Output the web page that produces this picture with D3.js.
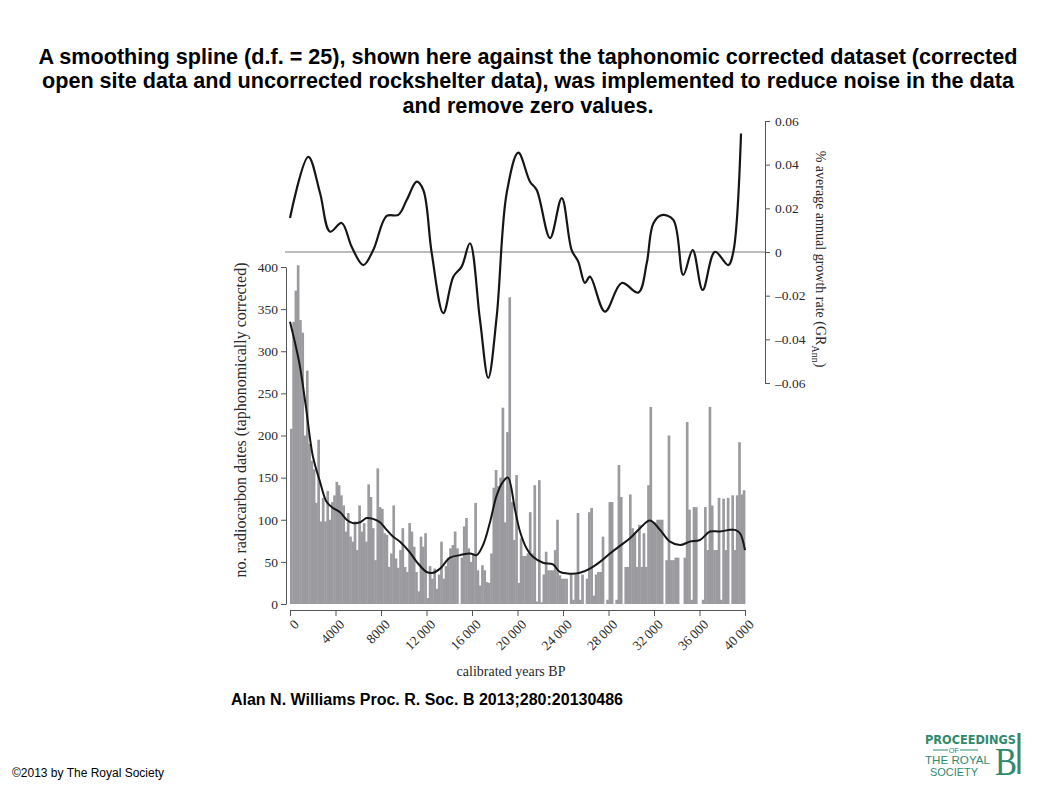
<!DOCTYPE html>
<html lang="en">
<head>
    <meta charset="UTF-8">
    <title>Smoothing spline vs taphonomic corrected dataset</title>
    <style>
        body { margin: 0; background: #fff; }
        #chart { width: 1058px; height: 793px; }
        .serif text { font-family: "Liberation Serif", "DejaVu Serif", serif; }
    </style>
    <script src="https://cdnjs.cloudflare.com/ajax/libs/d3/7.8.5/d3.min.js"></script>
</head>
<body>
    <div id="chart"></div>
    <script>
        // histogram: radiocarbon dates per 200-year bin, 0 -> 40000 cal BP
        const binYears = 200;
        const counts = [
            208, 335, 372, 402, 337, 322, 200, 277, 190, 170,
            160, 120, 195, 98, 126, 98, 134, 100, 121, 129,
            145, 141, 129, 117, 86, 108, 80, 74, 98, 64,
            117, 86, 96, 74, 142, 127, 90, 52, 161, 115,
            113, 84, 82, 44, 60, 117, 54, 43, 64, 90,
            44, 38, 96, 86, 68, 38, 15, 80, 68, 84,
            7, 45, 30, 42, 18, 35, 74, 30, 45, 55,
            66, 70, 86, 66, 0, 55, 92, 102, 66, 50,
            60, 120, 40, 22, 46, 40, 26, 25, 60, 138,
            159, 140, 150, 233, 97, 204, 364, 121, 76, 153,
            25, 78, 57, 57, 60, 109, 60, 141, 3, 147,
            2, 35, 62, 40, 40, 40, 64, 100, 34, 30,
            30, 30, 0, 35, 5, 35, 108, 5, 35, 0,
            30, 109, 114, 10, 35, 38, 38, 80, 0, 5,
            121, 121, 0, 5, 165, 127, 0, 44, 44, 130,
            90, 84, 44, 94, 44, 84, 44, 141, 234, 97,
            97, 100, 100, 100, 0, 52, 200, 52, 52, 55,
            55, 0, 0, 55, 216, 112, 5, 115, 115, 0,
            0, 5, 115, 64, 234, 117, 64, 64, 126, 5,
            125, 64, 126, 0, 129, 64, 129, 192, 130, 135
        ];

        // smoothing spline through the counts (years BP, count)
        const splineYears = [0, 820, 1400, 2000, 2640, 3230, 3780, 4400, 4980, 5540,
            6150, 6740, 7300, 7910, 8500, 9050, 9670, 10500, 11140, 12020,
            12570, 13190, 14070, 14950, 15820, 16410, 16970, 17580, 18170, 18720,
            19160, 19780, 20220, 20800, 21360, 22240, 23120, 23730, 24610, 25490,
            26370, 27250, 28130, 29010, 29890, 30770, 31650, 32530, 33410, 34290,
            35160, 36040, 36920, 37800, 38680, 39120, 39560, 40000];
        const splineValues = [335, 286, 234, 176, 145, 121, 114, 109, 100, 96,
            97, 102, 101, 97, 88, 80, 74, 62, 50, 38,
            37, 42, 55, 58, 60, 58, 70, 97, 129, 145,
            150, 112, 86, 66, 56, 49, 47, 38, 36, 37,
            42, 50, 60, 69, 78, 90, 99, 88, 74, 70,
            74, 76, 86, 86, 88, 88, 84, 64];

        // annual growth rate (right axis)
        const growthYears = [0, 1610, 2640, 3520, 4540, 5420, 6440, 7320, 8500, 9520,
            10260, 11140, 11720, 12460, 13480, 14360, 15090, 15820, 16700, 17430,
            18170, 19050, 20070, 21100, 21690, 22860, 23890, 24760, 25340, 25930,
            26370, 27690, 29160, 30620, 31360, 31940, 32680, 33700, 34570, 35400,
            36280, 37360, 38530, 38970, 39650];
        const growthValues = [0.0156, 0.0436, 0.027, 0.0093, 0.0133, 0.0024, -0.006, 0.0009, 0.0165, 0.017,
            0.0238, 0.0322, 0.0284, -0.0005, -0.028, -0.0113, -0.0067, 0.004, -0.031, -0.0577,
            -0.0296, 0.027, 0.0455, 0.0322, 0.0284, 0.0064, 0.0247, 0.0009, -0.0044, -0.0142,
            -0.0113, -0.0273, -0.0142, -0.0186, -0.0052, 0.0131, 0.0169, 0.0147, -0.0105, 0.0009,
            -0.0174, 0.0001, -0.006, 0, 0.0543];

        const xTicks = [0, 4000, 8000, 12000, 16000, 20000, 24000, 28000, 32000, 36000, 40000];
        const yTicks = [0, 50, 100, 150, 200, 250, 300, 350, 400];
        const grTicks = [-0.06, -0.04, -0.02, 0, 0.02, 0.04, 0.06];

        const titleLines = [
            "A smoothing spline (d.f. = 25), shown here against the taphonomic corrected dataset (corrected",
            "open site data and uncorrected rockshelter data), was implemented to reduce noise in the data",
            "and remove zero values."
        ];

        const svg = d3.select("#chart").append("svg")
            .attr("width", 1058)
            .attr("height", 793);

        // scales
        const x = d3.scaleLinear().domain([0, 40000]).range([290, 745]);
        const y = d3.scaleLinear().domain([0, 400]).range([604, 267]);
        const yGr = d3.scaleLinear().domain([-0.06, 0.06]).range([383, 121]);

        // title
        svg.append("g").selectAll("text")
            .data(titleLines)
            .join("text")
            .attr("x", 528)
            .attr("y", (d, i) => 63.5 + i * 24.5)
            .attr("text-anchor", "middle")
            .style("font-family", "'Liberation Sans', Arial, sans-serif")
            .style("font-weight", "bold")
            .style("font-size", "21.6px")
            .text(d => d);

        // bars
        svg.append("g").selectAll("rect")
            .data(counts)
            .join("rect")
            .attr("x", (d, i) => x(i * binYears))
            .attr("width", (d, i) => x((i + 1) * binYears) - x(i * binYears) + 0.4)
            .attr("y", d => y(d))
            .attr("height", d => y(0) - y(d))
            .attr("fill", "#9b9b9f");

        // smoothing spline
        const splineLine = d3.line()
            .x(d => x(d[0]))
            .y(d => y(d[1]))
            .curve(d3.curveCatmullRom.alpha(0.5));
        svg.append("path")
            .datum(splineYears.map((yr, i) => [yr, splineValues[i]]))
            .attr("d", splineLine)
            .attr("fill", "none")
            .attr("stroke", "#161616")
            .attr("stroke-width", 2);

        // zero line of growth rate
        svg.append("line")
            .attr("x1", 285).attr("x2", 765)
            .attr("y1", yGr(0)).attr("y2", yGr(0))
            .attr("stroke", "#777")
            .attr("stroke-width", 1);

        // growth rate curve
        const grLine = d3.line()
            .x(d => x(d[0]))
            .y(d => yGr(d[1]))
            .curve(d3.curveCatmullRom.alpha(0.5));
        svg.append("path")
            .datum(growthYears.map((yr, i) => [yr, growthValues[i]]))
            .attr("d", grLine)
            .attr("fill", "none")
            .attr("stroke", "#161616")
            .attr("stroke-width", 2.2);

        // axes
        const leftAxis = svg.append("g")
            .attr("class", "serif")
            .attr("transform", "translate(286,0)")
            .call(d3.axisLeft(y).tickValues(yTicks).tickSize(5).tickSizeOuter(0).tickPadding(3));

        const bottomAxis = svg.append("g")
            .attr("class", "serif")
            .attr("transform", "translate(0,610)")
            .call(d3.axisBottom(x).tickValues(xTicks).tickSize(6).tickSizeOuter(0)
                .tickFormat(d => d === 0 ? "0" : d < 10000 ? String(d) : String(d).slice(0, 2) + "\u2009" + String(d).slice(2)));
        bottomAxis.selectAll("text")
            .attr("x", 0)
            .attr("y", 0)
            .attr("dy", "0.35em")
            .attr("text-anchor", "end")
            .attr("transform", "translate(6,12) rotate(-45)");

        const rightAxis = svg.append("g")
            .attr("class", "serif")
            .attr("transform", "translate(765,0)")
            .call(d3.axisRight(yGr).tickValues(grTicks).tickSize(5).tickSizeOuter(0).tickPadding(5)
                .tickFormat(d => d === 0 ? "0" : (d < 0 ? "\u2013" : "") + Math.abs(d).toFixed(2)));

        [leftAxis, bottomAxis, rightAxis].forEach(g => {
            g.selectAll("text").style("font-size", "13.5px").attr("fill", "#2a2a2a");
            g.selectAll("line, path").attr("stroke", "#555");
        });

        // axis titles
        svg.append("text")
            .attr("transform", "translate(246,420) rotate(-90)")
            .attr("text-anchor", "middle")
            .style("font-family", "'Liberation Serif', serif")
            .style("font-size", "16px")
            .attr("fill", "#2a2a2a")
            .text("no. radiocarbon dates (taphonomically corrected)");

        svg.append("text")
            .attr("x", 511)
            .attr("y", 676)
            .attr("text-anchor", "middle")
            .style("font-family", "'Liberation Serif', serif")
            .style("font-size", "14px")
            .attr("fill", "#2a2a2a")
            .text("calibrated years BP");

        const grLabel = svg.append("text")
            .attr("transform", "translate(816,259) rotate(90)")
            .attr("text-anchor", "middle")
            .style("font-family", "'Liberation Serif', serif")
            .style("font-size", "14px")
            .attr("fill", "#2a2a2a");
        grLabel.append("tspan").text("% average annual growth rate (GR");
        grLabel.append("tspan").attr("dy", 4).style("font-size", "10px").text("Ann");
        grLabel.append("tspan").attr("dy", -4).text(")");

        // citation and copyright
        svg.append("text")
            .attr("x", 427)
            .attr("y", 705)
            .attr("text-anchor", "middle")
            .style("font-family", "'Liberation Sans', Arial, sans-serif")
            .style("font-weight", "bold")
            .style("font-size", "16px")
            .text("Alan N. Williams Proc. R. Soc. B 2013;280:20130486");

        svg.append("text")
            .attr("x", 12)
            .attr("y", 777)
            .style("font-family", "'Liberation Sans', Arial, sans-serif")
            .style("font-size", "12px")
            .text("\u00a92013 by The Royal Society");

        // journal logo
        const teal = "#2f8a6e";
        const logo = svg.append("g").attr("fill", teal);
        logo.append("text")
            .attr("x", 925).attr("y", 744)
            .style("font-family", "'DejaVu Sans Condensed', 'Liberation Sans', sans-serif")
            .style("font-weight", "bold")
            .style("font-size", "13px")
            .attr("textLength", 91)
            .attr("lengthAdjust", "spacingAndGlyphs")
            .text("PROCEEDINGS");
        logo.append("text")
            .attr("x", 954).attr("y", 753)
            .attr("text-anchor", "middle")
            .style("font-family", "'Liberation Sans', sans-serif")
            .style("font-size", "7.5px")
            .text("OF");
        logo.append("line").attr("x1", 933).attr("x2", 948).attr("y1", 750).attr("y2", 750).attr("stroke", teal);
        logo.append("line").attr("x1", 960).attr("x2", 978).attr("y1", 750).attr("y2", 750).attr("stroke", teal);
        logo.append("text")
            .attr("x", 925).attr("y", 764)
            .style("font-family", "'Liberation Sans', sans-serif")
            .style("font-size", "11px")
            .attr("textLength", 65)
            .attr("lengthAdjust", "spacingAndGlyphs")
            .text("THE ROYAL");
        logo.append("text")
            .attr("x", 930).attr("y", 776)
            .style("font-family", "'Liberation Sans', sans-serif")
            .style("font-size", "11px")
            .attr("textLength", 48)
            .attr("lengthAdjust", "spacingAndGlyphs")
            .text("SOCIETY");
        logo.append("text")
            .attr("x", 995).attr("y", 775)
            .style("font-family", "'Liberation Serif', serif")
            .style("font-size", "40px")
            .attr("textLength", 22)
            .attr("lengthAdjust", "spacingAndGlyphs")
            .text("B");
        logo.append("rect")
            .attr("x", 1017.5).attr("y", 733).attr("width", 3).attr("height", 41);
    </script>
</body>
</html>
